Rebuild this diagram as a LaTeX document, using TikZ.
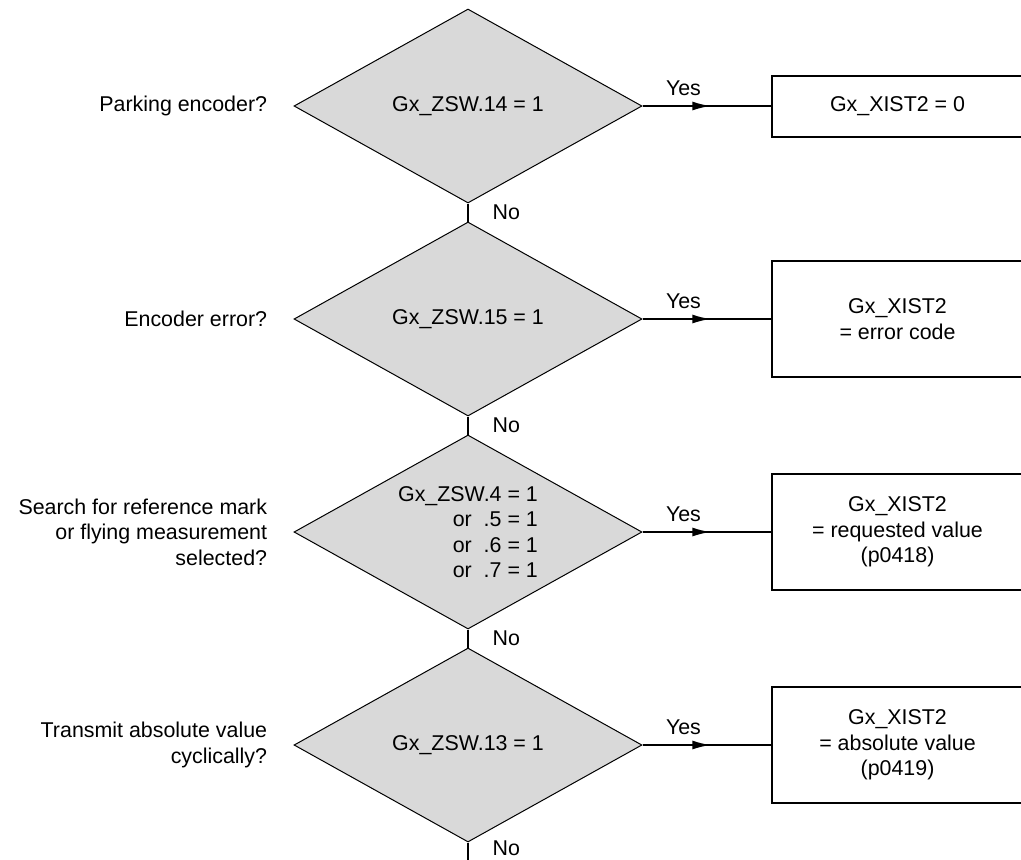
\documentclass[tikz,border=0pt]{standalone}
\usepackage{fontspec}
\setmainfont{Liberation Sans}
\usetikzlibrary{shapes.geometric,positioning,arrows.meta,decorations.markings}
\definecolor{decgray}{HTML}{D9D9D9}

\begin{document}
\begin{tikzpicture}[x=0.5pt,y=-0.5pt,
    font=\fontsize{10.7}{12.75}\selectfont,
    decision/.style={diamond,aspect=1.8,draw=black,line width=0.5pt,fill=decgray,
      minimum width=174pt,minimum height=97pt,inner sep=0pt,align=right},
    result/.style={draw,line width=1pt,minimum width=126pt,inner sep=0pt,align=center},
    question/.style={align=right,inner sep=0pt},
    lbl/.style={inner sep=0pt},
    stub/.style={line width=0.6pt},
    yesline/.style={line width=0.8pt,postaction={decorate},
      decoration={markings,mark=at position 0.53 with {\arrow{Latex[length=9pt,width=4.5pt]}}}}]
    \useasboundingbox (0,0) rectangle (1021,859);
    % decisions
    \node[decision] (d1) at (468,106) {Gx\_ZSW.14 = 1};
    \node[decision,below=9pt of d1] (d2) {Gx\_ZSW.15 = 1};
    \node[decision,below=9pt of d2] (d3) {Gx\_ZSW.4 = 1\\or\ \ .5 = 1\\or\ \ .6 = 1\\or\ \ .7 = 1};
    \node[decision,below=9pt of d3] (d4) {Gx\_ZSW.13 = 1};
    \coordinate[below=10pt of d4.south] (out);
    % questions
    \node[question,left=13pt of d1] (q1) {Parking encoder?};
    \node[question,left=13pt of d2] (q2) {Encoder error?};
    \node[question,left=13pt of d3] (q3) {Search for reference mark\\or flying measurement\\selected?};
    \node[question,left=13pt of d4] (q4) {Transmit absolute value\\cyclically?};
    % results
    \node[result,minimum height=30.5pt,right=64pt of d1] (r1) {Gx\_XIST2 = 0};
    \node[result,minimum height=58pt,right=64pt of d2] (r2) {Gx\_XIST2\\= error code};
    \node[result,minimum height=58pt,right=64pt of d3] (r3) {Gx\_XIST2\\= requested value\\(p0418)};
    \node[result,minimum height=58pt,right=64pt of d4] (r4) {Gx\_XIST2\\= absolute value\\(p0419)};
    % yes branches
    \draw[yesline] (d1.east) -- node[lbl,above=5pt,pos=0.32] (y1) {Yes} (r1.west);
    \draw[yesline] (d2.east) -- node[lbl,above=5pt,pos=0.32] (y2) {Yes} (r2.west);
    \draw[yesline] (d3.east) -- node[lbl,above=5pt,pos=0.32] (y3) {Yes} (r3.west);
    \draw[yesline] (d4.east) -- node[lbl,above=5pt,pos=0.32] (y4) {Yes} (r4.west);
    % no branches
    \draw[stub] (d1.south) -- node[lbl,right=12pt] (n1) {No} (d2.north);
    \draw[stub] (d2.south) -- node[lbl,right=12pt] (n2) {No} (d3.north);
    \draw[stub] (d3.south) -- node[lbl,right=12pt] (n3) {No} (d4.north);
    \draw[stub] (d4.south) -- node[lbl,right=12pt,pos=0.3] (n4) {No} (out);
  \end{tikzpicture}
\end{document}
